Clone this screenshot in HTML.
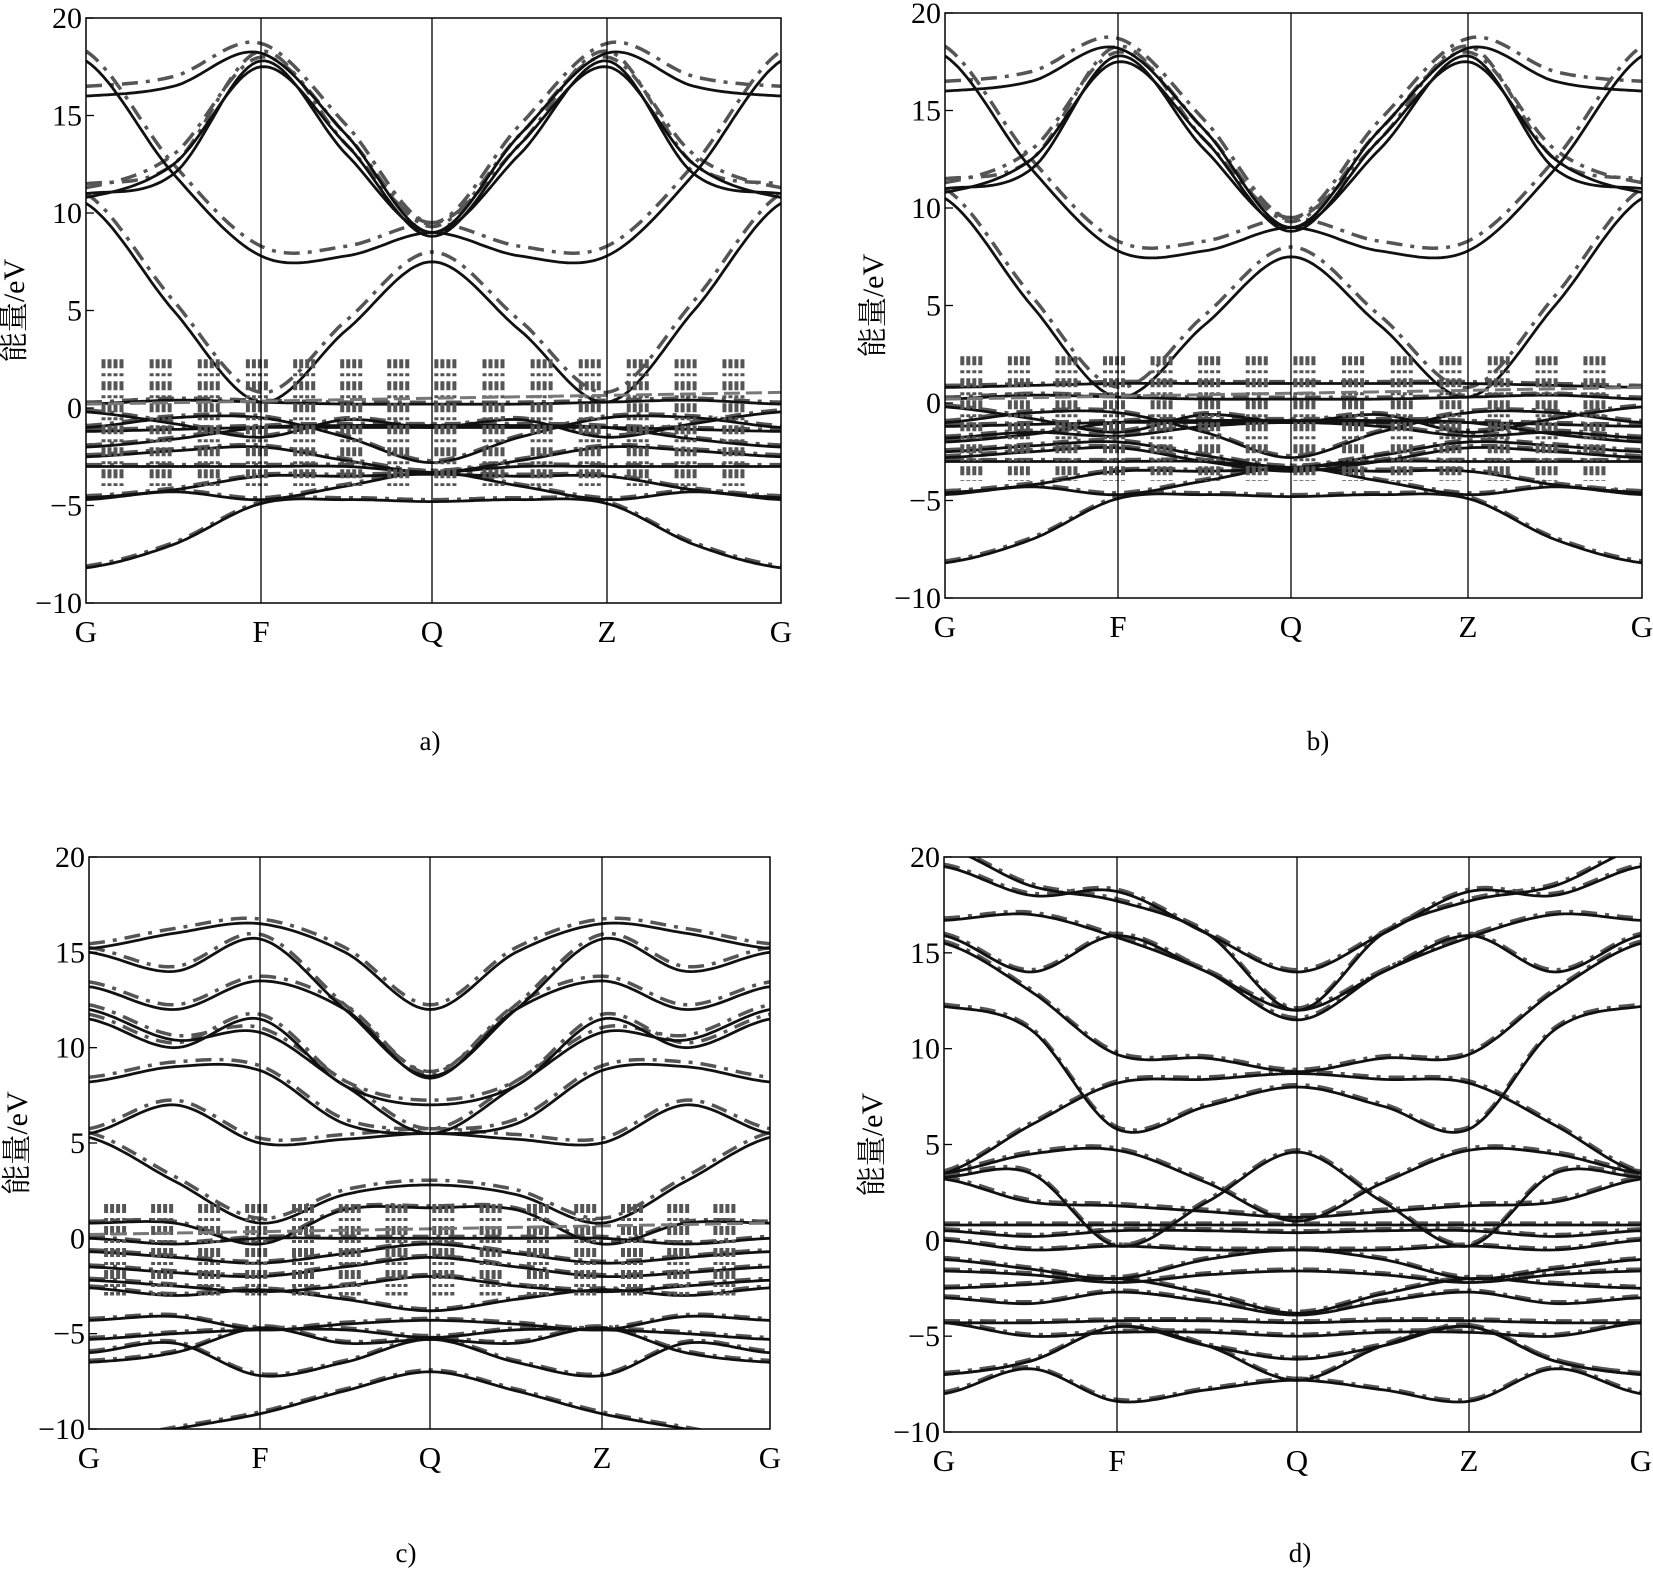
<!DOCTYPE html>
<html><head><meta charset="utf-8">
<style>
html,body{margin:0;padding:0;background:#fff;}
svg{display:block;}
text{font-family:"Liberation Serif","Noto Serif CJK SC",serif;fill:#000;}
</style></head>
<body>
<svg id="s" width="1653" height="1570" viewBox="0 0 1653 1570" xmlns="http://www.w3.org/2000/svg">
<text x="430" y="750" font-size="27" text-anchor="middle">a)</text>
<text x="1318" y="750" font-size="27" text-anchor="middle">b)</text>
<text x="406" y="1562" font-size="27" text-anchor="middle">c)</text>
<text x="1300" y="1562" font-size="27" text-anchor="middle">d)</text>
</svg>
<script>
var S=document.getElementById('s'),NS='http://www.w3.org/2000/svg';
function el(t,a,txt){var e=document.createElementNS(NS,t);for(var k in a)e.setAttribute(k,a[k]);if(txt!==undefined)e.textContent=txt;S.appendChild(e);return e;}
function panel(P){
 var x0=P.x0,x1=P.x1,y0=P.y0,y1=P.y1;
 function Y(e){return y1-(e+10)/30*(y1-y0);}
 var xs=P.kx;
 function X(t){var i=Math.min(3,Math.floor(t/2));var f=(t-2*i)/2;return xs[i]+(xs[i+1]-xs[i])*f;}
 var cp=el('clipPath',{id:'c'+P.id});var r=document.createElementNS(NS,'rect');r.setAttribute('x',x0);r.setAttribute('y',y0);r.setAttribute('width',x1-x0);r.setAttribute('height',y1-y0);cp.appendChild(r);
 var g=el('g',{'clip-path':'url(#c'+P.id+')'});
 function path(b,off,attrs){var d='';for(var s=0;s<=160;s++){var t=s/20;var i=Math.min(7,Math.floor(t));var f=t-i;
  var p0=b[Math.max(0,i-1)],p1=b[i],p2=b[i+1],p3=b[Math.min(8,i+2)];
  var v=0.5*((2*p1)+(-p0+p2)*f+(2*p0-5*p1+4*p2-p3)*f*f+(-p0+3*p1-3*p2+p3)*f*f*f);
  d+=(s?'L':'M')+X(t).toFixed(1)+' '+Y(v+off).toFixed(1);}
  var e=document.createElementNS(NS,'path');e.setAttribute('d',d);e.setAttribute('fill','none');for(var k in attrs)e.setAttribute(k,attrs[k]);g.appendChild(e);}
 P.bands.forEach(function(b){var off=b[0]>3||b[4]>3?P.goff:0.1;path(b,off,{stroke:'#555','stroke-width':3.5,'stroke-dasharray':'16 8 4 8'});});
 P.bands.forEach(function(b){path(b,0,{stroke:'#111','stroke-width':2.8});});
 if(P.clusters){for(var c=0;c<14;c++){var t=0.2+c*0.55;if(t>7.9)break;var cx=X(t);
  for(var j=0;j<4;j++){var line=document.createElementNS(NS,'line');line.setAttribute('x1',cx+j*6);line.setAttribute('x2',cx+j*6);line.setAttribute('y1',Y(P.clusters[1]));line.setAttribute('y2',Y(P.clusters[0]));line.setAttribute('stroke','#555');line.setAttribute('stroke-width',4);line.setAttribute('stroke-dasharray','9 5 3 5');g.appendChild(line);}}
  var l=document.createElementNS(NS,'line');l.setAttribute('x1',x0);l.setAttribute('x2',x1);l.setAttribute('y1',Y(0.2));l.setAttribute('y2',Y(0.8));l.setAttribute('stroke','#777');l.setAttribute('stroke-width',3);l.setAttribute('stroke-dasharray','16 6');g.appendChild(l);}
 el('rect',{x:x0,y:y0,width:x1-x0,height:y1-y0,fill:'none',stroke:'#000','stroke-width':1.5});
 for(var i=1;i<4;i++)el('line',{x1:xs[i],x2:xs[i],y1:y0,y2:y1,stroke:'#000','stroke-width':1.3});
 for(var e=-10;e<=20;e+=5){var yy=Y(e);el('line',{x1:x0,x2:x0+8,y1:yy,y2:yy,stroke:'#000','stroke-width':1.3});
  el('text',{x:x0-4,y:yy+10,'font-size':30,'text-anchor':'end'},(e<0?'\u2212':'')+Math.abs(e));}
 ['G','F','Q','Z','G'].forEach(function(L,i){el('text',{x:xs[i],y:y1+39,'font-size':31,'text-anchor':'middle'},L);});
 var cy=(y0+y1)/2;
 el('text',{x:x0-62,y:cy,'font-size':30,'text-anchor':'middle',transform:'rotate(-90 '+(x0-62)+' '+cy+')'},'能量/eV');
}
var A=[
[-8.2,-7,-4.9,-4.7,-4.8,-4.7,-4.9,-7,-8.2],
[-4.7,-4.3,-4.7,-4,-3.3,-4,-4.7,-4.3,-4.7],
[-4.6,-4.2,-3.5,-3.5,-3.4,-3.5,-3.5,-4.2,-4.6],
[-3,-3,-3,-3,-3.3,-3,-3,-3,-3],
[-2.5,-2.2,-2,-2.7,-3.3,-2.7,-2,-2.2,-2.5],
[-2,-1.6,-1,-0.9,-0.9,-0.9,-1,-1.6,-2],
[-1.2,-1.1,-1,-1,-1,-1,-1,-1.1,-1.2],
[-1,-0.5,-0.5,-1.5,-2.8,-1.5,-0.5,-0.5,-1],
[0.2,0.4,0.3,0.2,0.2,0.2,0.3,0.4,0.2],
[-0.2,-0.8,-1.5,-0.6,-1,-0.6,-1.5,-0.8,-0.2],
[10.5,5,0.3,4,7.5,4,0.3,5,10.5],
[11,12,17.8,13,9,13,17.8,12,11],
[10.8,12.5,17.5,13.5,8.8,13.5,17.5,12.5,10.8],
[16,16.5,18.2,14,9,14,18.2,16.5,16],
[17.8,12,7.8,7.8,9,7.8,7.8,12,17.8]];
var B=A.map(function(b){return b.slice();});
B.push([0.8,0.9,1,1,1,1,1,0.9,0.8],[-1.8,-1.5,-1.7,-1.2,-1,-1.2,-1.7,-1.5,-1.8],[-2.8,-2.5,-2.3,-3,-3.5,-3,-2.3,-2.5,-2.8]);
var C=[
[15.2,16,16.5,15,12,15,16.5,16,15.2],
[15,14,15.7,12,8.5,12,15.7,14,15],
[13.2,12,13.5,12,8.4,12,13.5,12,13.2],
[12,10.4,10.8,8,5.5,8,10.8,10.4,12],
[11.5,10,11.5,8,7,8,11.5,10,11.5],
[8.2,9,8.8,6,5.5,6,8.8,9,8.2],
[5.5,7,5,5.2,5.5,5.2,5,7,5.5],
[5.3,3,0.8,2.3,2.8,2.3,0.8,3,5.3],
[0.8,0.8,-0.3,1.5,1.6,1.5,-0.3,0.8,0.8],
[0,-0.3,0,0,0,0,0,-0.3,0],
[-0.7,-1,-1.3,-0.8,-0.3,-0.8,-1.3,-1,-0.7],
[-1.5,-1.8,-2,-1.5,-1,-1.5,-2,-1.8,-1.5],
[-2.2,-2.5,-2.8,-2.5,-2,-2.5,-2.8,-2.5,-2.2],
[-2.6,-3,-2.7,-3.2,-3.8,-3.2,-2.7,-3,-2.6],
[-4.3,-4.1,-4.8,-4.5,-4.3,-4.5,-4.8,-4.1,-4.3],
[-5.3,-5,-4.8,-4.8,-5.2,-4.8,-4.8,-5,-5.3],
[-6.5,-6,-4.7,-5.5,-5.3,-5.5,-4.7,-6,-6.5],
[-6,-5.5,-7.2,-6.5,-5.3,-6.5,-7.2,-5.5,-6],
[-10.8,-10,-9.2,-8,-7,-8,-9.2,-10,-10.8]];
var D=[
[19.5,18,18.2,16,14,16,18.2,18,19.5],
[20.5,18.5,17.7,16,12,16,17.7,18.5,20.5],
[16.7,17,15.8,14,11.5,14,15.8,17,16.7],
[15.9,14,15.9,14,12,14,15.9,14,15.9],
[12.2,11,5.8,7,8,7,5.8,11,12.2],
[3.5,6,8.2,8.4,8.7,8.4,8.2,6,3.5],
[15.5,13,9.7,9.5,8.8,9.5,9.7,13,15.5],
[3.2,2,1.8,1.5,1.2,1.5,1.8,2,3.2],
[3.5,4.5,4.7,3,1,3,4.7,4.5,3.5],
[3.3,3.5,-0.3,2,4.6,2,-0.3,3.5,3.3],
[0.8,0.8,0.8,0.8,0.8,0.8,0.8,0.8,0.8],
[0.5,0.2,0.5,0.5,0.4,0.5,0.5,0.2,0.5],
[0,-0.5,-0.3,-0.5,-0.5,-0.5,-0.3,-0.5,0],
[-1,-1.5,-2,-1,-0.5,-1,-2,-1.5,-1],
[-1.6,-1.8,-2.2,-1.8,-1.6,-1.8,-2.2,-1.8,-1.6],
[-2.5,-2.3,-2,-2.8,-3.8,-2.8,-2,-2.3,-2.5],
[-3,-3.3,-2.7,-3.2,-3.9,-3.2,-2.7,-3.3,-3],
[-4.3,-4.3,-4.2,-4.2,-4.3,-4.2,-4.2,-4.3,-4.3],
[-4.3,-5,-4.8,-4.8,-5,-4.8,-4.8,-5,-4.3],
[-7,-6.3,-4.5,-5.5,-6.2,-5.5,-4.5,-6.3,-7],
[-7,-6.3,-4.5,-5.5,-7.3,-5.5,-4.5,-6.3,-7],
[-8,-6.7,-8.4,-7.8,-7.3,-7.8,-8.4,-6.7,-8]];
panel({id:'a',x0:86,x1:781,y0:18,y1:603,kx:[86,261,432,607,781],bands:A,goff:0.5,clusters:[-4,2.5]});
panel({id:'b',x0:945,x1:1642,y0:13,y1:598,kx:[945,1118,1291,1468,1642],bands:B,goff:0.5,clusters:[-4,2.4]});
panel({id:'c',x0:89,x1:770,y0:857,y1:1429,kx:[89,260,430,602,770],bands:C,goff:0.25,clusters:[-3,1.8]});
panel({id:'d',x0:944,x1:1641,y0:857,y1:1432,kx:[944,1117,1297,1469,1641],bands:D,goff:0.12,clusters:null});
</script>
</body></html>
